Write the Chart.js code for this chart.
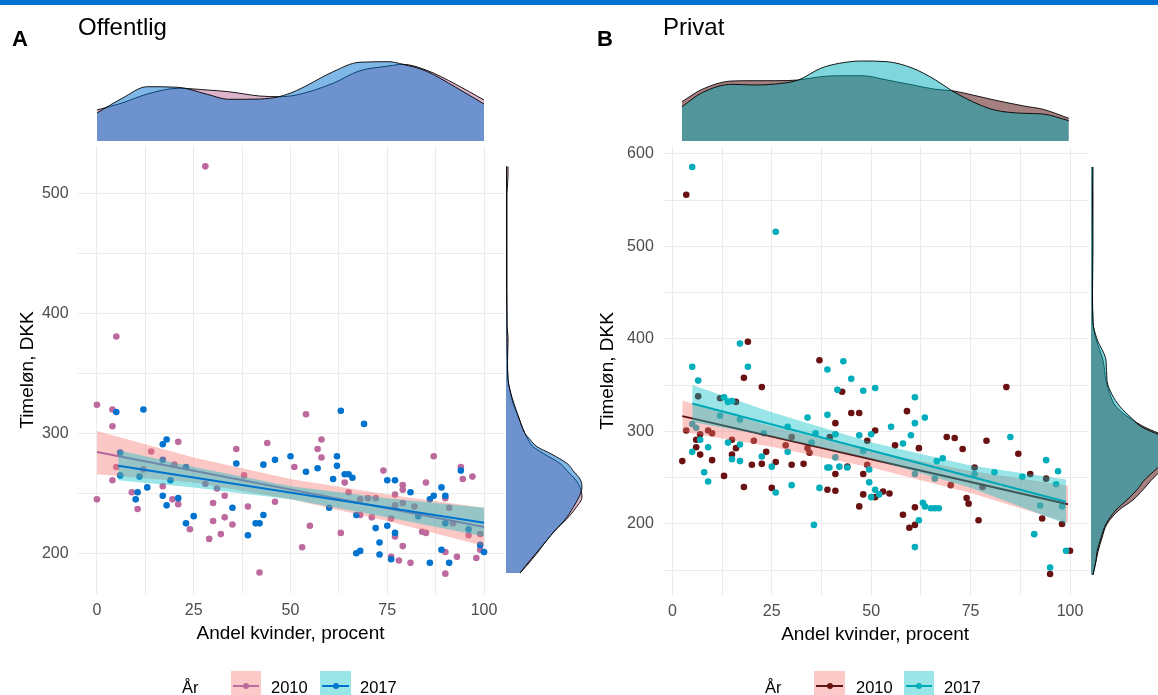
<!DOCTYPE html>
<html>
<head>
<meta charset="utf-8">
<script src="https://cdn.jsdelivr.net/npm/chart.js@4/dist/chart.umd.min.js"></script>
<style>
  html, body { margin: 0; padding: 0; background: #fff; }
  body { width: 1158px; height: 695px; overflow: hidden; position: relative;
         font-family: "Liberation Sans", Arial, Helvetica, sans-serif; color: #000; }
  canvas.layer { position: absolute; left: 0; top: 0; }
  .topbar { position: absolute; left: 0; top: 0; width: 1158px; height: 5px; background: #0071CE; }
  .tag { position: absolute; font-weight: bold; font-size: 22px; line-height: 22px; }
  .ttl { position: absolute; font-size: 24px; line-height: 24px; }
  .lg { position: absolute; font-size: 16.5px; line-height: 16px; white-space: nowrap; }
  .key { position: absolute; top: 671px; height: 28px; }
  .key .ln { position: absolute; left: 2px; right: 2px; top: 14px; height: 2px; }
  .key .dt { position: absolute; width: 6px; height: 6px; border-radius: 50%; top: 12px; left: 50%; margin-left: -3px; }
</style>
</head>
<body>
<div class="topbar"></div>

<canvas id="topA" class="layer" width="1158" height="695"></canvas>
<canvas id="rightA" class="layer" width="1158" height="695"></canvas>
<canvas id="scatA" class="layer" width="1158" height="695"></canvas>
<canvas id="topB" class="layer" width="1158" height="695"></canvas>
<canvas id="rightB" class="layer" width="1158" height="695"></canvas>
<canvas id="scatB" class="layer" width="1158" height="695"></canvas>

<div class="tag" style="left:12px;top:28px;">A</div>
<div class="ttl" style="left:78px;top:15px;">Offentlig</div>
<div class="tag" style="left:597px;top:28px;">B</div>
<div class="ttl" style="left:663px;top:15px;">Privat</div>

<!-- legend, panel A -->
<div class="lg" style="left:182px;top:679px;">År</div>
<div class="key" style="left:231px;width:30px;background:#FBC9C7;"><div class="ln" style="background:#BD6A9E"></div><div class="dt" style="background:#BD6A9E"></div></div>
<div class="lg" style="left:271px;top:679px;">2010</div>
<div class="key" style="left:320px;width:31px;background:#99E5E7;"><div class="ln" style="background:#0073CF"></div><div class="dt" style="background:#0073CF"></div></div>
<div class="lg" style="left:360px;top:679px;">2017</div>

<!-- legend, panel B -->
<div class="lg" style="left:765px;top:679px;">År</div>
<div class="key" style="left:814px;width:31px;background:#FBC9C7;"><div class="ln" style="background:#5E1414"></div><div class="dt" style="background:#6A1212"></div></div>
<div class="lg" style="left:856px;top:679px;">2010</div>
<div class="key" style="left:904px;width:30px;background:#99E5E7;"><div class="ln" style="background:#00A9B7"></div><div class="dt" style="background:#00ADBB"></div></div>
<div class="lg" style="left:944px;top:679px;">2017</div>

<script>
// ---------- axis ticks ----------
const xGridVals = [0, 12.5, 25, 37.5, 50, 62.5, 75, 87.5, 100];
const xLabelVals = [0, 25, 50, 75, 100];
const yGridA = [200, 250, 300, 350, 400, 450, 500];
const yLabelA = [200, 300, 400, 500];
const yGridB = [150, 200, 250, 300, 350, 400, 450, 500, 550, 600];
const yLabelB = [200, 300, 400, 500, 600];

// ---------- Offentlig (A): hourly wage vs share of women ----------
const a2010X = [28, 5, 0, 4, 4, 0, 4, 5, 9, 10.5, 12, 14, 17, 21, 20, 19.5, 21, 24, 29, 28, 30, 30, 31, 32, 33, 33, 35, 36, 38, 39,
                42, 44, 46, 51, 53, 54, 58, 57, 58, 64, 65, 55, 63, 68, 68, 70, 72, 71, 74, 76, 76, 77, 77, 77, 78, 79, 79, 79, 79, 81,
                82, 85, 84, 85, 87, 90, 90, 90, 91, 92, 93, 94, 94.5, 97, 96, 99, 99, 98];
const a2010Y = [523, 381, 324, 320, 306, 245, 261, 272, 251, 237, 270, 285, 256, 293, 274, 245, 241, 220, 212, 258, 242, 227, 254, 216, 248, 230, 224, 287, 265, 239,
                184, 292, 243, 272, 205, 316, 295, 287, 280, 259, 251, 223, 217, 232, 245, 246, 246, 230, 269, 229, 197, 249, 240, 214, 194, 257, 253, 242, 206, 192,
                239, 259, 218, 217, 281, 246, 201, 183, 238, 225, 197, 272, 262, 264, 215, 216, 203, 196];
const a2017X = [5, 12, 6, 6, 10.5, 10, 11, 13, 17, 17, 18, 17, 18, 21, 19, 23, 23, 25, 35, 36, 39, 41, 42, 43, 43, 46, 50, 63, 69, 62,
                62, 57, 54, 61, 64, 65, 66, 60, 67, 67, 68, 72, 73, 73, 75, 75, 76, 77, 77, 81, 83, 86, 86, 87, 89, 90, 89, 90, 91, 94,
                96, 99, 100];
const a2017Y = [318, 320, 284, 265, 251, 245, 264, 255, 248, 291, 295, 278, 240, 246, 261, 272, 225, 231, 238, 275, 215, 225, 225, 274, 232, 278, 281, 319, 308, 281,
                273, 271, 268, 262, 266, 266, 263, 238, 232, 200, 202, 221, 209, 199, 261, 223, 195, 261, 217, 251, 231, 245, 192, 248, 255, 248, 203, 225, 192, 269,
                220, 207, 201];
// linear fits and their confidence bands
const aFit2010X = [0, 100],   aFit2010Y = [284.6, 222];
const aFit2017X = [5.5, 100], aFit2017Y = [273, 225.5];
const aBand2010X = [0, 25, 50, 75, 100];
const aBand2010Lo = [266, 259, 245, 227, 206];
const aBand2010Hi = [302, 280, 262, 249, 238];
const aBand2017X = [5.5, 25, 50, 75, 100];
const aBand2017Lo = [261, 255, 245, 230, 214];
const aBand2017Hi = [286, 272, 256, 246, 238];

// marginal densities, A (relative heights)
const aTopX = [0, 6.5, 13, 21, 28.5, 34, 42, 47, 51.5, 61, 67.7, 75.4, 79, 85, 92.7, 100];
const aTop2010 = [31, 38, 47, 52.7, 51, 49.3, 45, 44.3, 46, 57.7, 70, 75, 76.7, 71, 56.7, 41];
const aTop2017 = [28, 42.7, 54.3, 53.7, 46.7, 41.7, 42, 44.3, 50.3, 69.3, 78.7, 79.3, 76.7, 70, 53.7, 37];
const aSideY = [183.5, 190, 200, 210, 220, 228, 238, 247, 255, 262, 268, 275, 283, 289, 295, 300, 308, 315, 325, 336, 345, 360, 375, 381, 390, 420, 460, 500, 515, 523];
const aSide2010 = [14, 21, 31, 40, 50, 60, 70, 76, 74, 69, 62, 54, 38, 27, 22, 19, 15, 12, 7, 4, 2, 1.5, 2, 2, 1, 1, 1, 1, 2, 2];
const aSide2017 = [14, 20, 30, 40, 50, 59, 67, 73, 76, 74, 68, 61, 45, 31, 24, 19, 15, 12, 8, 4, 2, 1.5, 1, 1, 1, 0.5, 0.5, 0.5, 0.5, 0.5];

// ---------- Privat (B) ----------
const b2010X = [3.5, 19, 18, 22.5, 6.5, 12, 16, 3.5, 37, 42.7, 45, 47, 41, 39.6, 51, 2.5, 6, 6, 7, 7, 9, 10, 10, 13, 15, 15, 16, 18, 20, 20.5,
                22.5, 23.6, 25, 26, 28.5, 30, 33, 30, 34, 34.5, 39, 41, 41, 44, 47, 48, 48, 51, 49, 49, 84, 59, 69, 71, 79, 62, 73, 56, 87, 90,
                94, 76, 78, 70, 53, 54.6, 58, 59.6, 61, 61, 74, 74.5, 77, 93, 98, 100, 95];
const b2010Y = [556, 397, 358, 348, 338, 336, 332, 301, 377, 343, 320, 320, 309, 294, 301, 268, 291, 283, 275, 297, 301, 298, 269, 252, 275, 291, 282, 240, 264, 290,
                265, 278, 239, 267, 285, 264, 265, 294, 282, 277, 237, 254, 236, 262, 219, 232, 254, 229, 264, 290, 348, 322, 294, 293, 290, 282, 281, 285, 276, 254,
                249, 261, 240, 242, 235, 233, 210, 196, 199, 218, 228, 222, 204, 206, 200, 171, 146];
const b2017X = [5, 26, 17, 5, 6.5, 19, 13, 14, 15, 12, 17, 5, 6, 39, 43, 45, 48, 51, 41.5, 39, 34, 36, 29, 41, 47, 50, 5, 7, 9, 8,
                9, 14, 17, 15, 17, 22.5, 23, 25, 26, 30, 29, 35, 35.6, 37, 39, 39.5, 42, 41, 44, 49.5, 50, 51, 48, 49.5, 61, 63.5, 61, 55, 60, 58,
                85, 94, 97, 88, 96.5, 81, 76, 66.5, 68, 61, 66, 52, 62, 61, 63, 63.5, 65, 66, 67, 91, 92.5, 99, 95, 98];
const b2017Y = [586, 516, 395, 370, 355, 370, 337, 332, 333, 317, 313, 308, 304, 367, 376, 357, 344, 347, 345, 318, 315, 298, 305, 297, 296, 297, 278, 291, 283, 256,
                246, 288, 286, 270, 268, 273, 298, 262, 234, 242, 278, 288, 199, 239, 261, 261, 262, 272, 261, 245, 229, 237, 279, 259, 337, 315, 309, 305, 296, 287,
                294, 269, 257, 251, 243, 256, 254, 268, 271, 254, 249, 232, 204, 175, 223, 219, 217, 217, 217, 189, 220, 171, 153, 219];
const bFit2010X = [2.5, 99.5], bFit2010Y = [316.6, 221.3];
const bFit2017X = [5, 99],     bFit2017Y = [330.3, 224];
const bBand2010X = [2.5, 25, 50, 75, 99.5];
const bBand2010Lo = [299.6, 283.5, 261, 233.4, 201.3];
const bBand2010Hi = [333.6, 305.5, 279, 257.4, 241.3];
const bBand2017X = [5, 25, 50, 75, 99];
const bBand2017Lo = [310.3, 294.7, 270.4, 239.1, 200];
const bBand2017Hi = [350.3, 320.7, 288.4, 263.1, 248];

const bTopX = [2.4, 7.5, 15, 20.5, 26, 31.7, 37.3, 42, 47.6, 54, 60.5, 66.2, 70.3, 75.5, 81, 88.4, 93.2, 99.7];
const bTop2010 = [39.3, 51.7, 60, 60.3, 60.3, 61, 64.3, 65.3, 65.3, 61, 56, 51.7, 50.3, 46, 41, 35, 31.7, 22.7];
const bTop2017 = [34.3, 48.3, 56.7, 56, 57, 61, 72.7, 77.7, 80, 79.3, 72.7, 61, 50.3, 39.3, 31, 27.7, 27, 20.3];
const bSideY = [145, 150, 160, 170, 185, 200, 215, 226, 237, 247, 260, 270, 280, 290, 296, 304, 315, 327, 340, 355, 377, 400, 418, 450, 500, 550, 586];
const bSide2010 = [2, 3, 5, 7, 11, 16, 28, 42, 52, 60, 72, 80, 82, 80, 72, 55, 38, 25, 19, 15, 12, 5, 2, 1.5, 1.5, 2, 1.5];
const bSide2017 = [2, 3, 5, 6, 10, 15, 25, 36, 46, 53, 66, 76, 80, 79, 69, 52, 40, 29, 21, 16, 15, 6, 2, 1.5, 2, 1.5, 2];

// ---------- helpers ----------
Chart.defaults.font.family = "'Liberation Sans', Arial, Helvetica, sans-serif";
const PAGE_W = 1158, PAGE_H = 695;
const pts = (xs, ys) => xs.map((x, i) => ({ x, y: ys[i] }));
const RIB2010 = 'rgba(248,118,109,0.4)';
const RIB2017 = 'rgba(0,191,196,0.4)';

function baseOptions(padding, scales) {
  return {
    responsive: false, maintainAspectRatio: false, animation: false, devicePixelRatio: 1,
    layout: { padding },
    plugins: { legend: { display: false }, tooltip: { enabled: false } },
    events: [],
    scales
  };
}

function scatterPanel(id, p) {
  const yAxisW = p.left - p.padLeft;
  const xAxisH = 52;
  const datasets = [
    { type: 'scatter', data: pts(p.x10, p.y10), backgroundColor: p.c10, borderWidth: 0, pointRadius: 3.3, order: 30 },
    { type: 'scatter', data: pts(p.x17, p.y17), backgroundColor: p.c17, borderWidth: 0, pointRadius: 3.3, order: 29 },
    { type: 'line', data: pts(p.b10x, p.b10hi), borderWidth: 0, borderColor: 'transparent', pointRadius: 0, fill: 3, backgroundColor: RIB2010, order: 20 },
    { type: 'line', data: pts(p.b10x, p.b10lo), borderWidth: 0, borderColor: 'transparent', pointRadius: 0, fill: false, order: 21 },
    { type: 'line', data: pts(p.f10x, p.f10y), borderWidth: 2, borderColor: p.l10, pointRadius: 0, fill: false, order: 19 },
    { type: 'line', data: pts(p.b17x, p.b17hi), borderWidth: 0, borderColor: 'transparent', pointRadius: 0, fill: 6, backgroundColor: RIB2017, order: 15 },
    { type: 'line', data: pts(p.b17x, p.b17lo), borderWidth: 0, borderColor: 'transparent', pointRadius: 0, fill: false, order: 16 },
    { type: 'line', data: pts(p.f17x, p.f17y), borderWidth: 2, borderColor: p.l17, pointRadius: 0, fill: false, order: 14 }
  ];
  const grid = { color: '#EBEBEB', lineWidth: 1, drawTicks: false };
  const tickFont = { size: 16 };
  const scales = {
    x: {
      type: 'linear', min: p.xMin, max: p.xMax,
      afterBuildTicks: s => { s.ticks = xGridVals.map(v => ({ value: v })); },
      afterFit: s => { s.height = xAxisH; },
      grid, border: { display: false },
      ticks: { padding: 6.5, color: '#4D4D4D', font: tickFont, autoSkip: false, maxRotation: 0,
               callback: v => xLabelVals.includes(v) ? String(v) : '' },
      title: { display: true, text: 'Andel kvinder, procent', color: '#000', font: { size: 19 }, padding: { top: 0, bottom: 1 } }
    },
    y: {
      type: 'linear', min: p.yMin, max: p.yMax,
      afterBuildTicks: s => { s.ticks = p.yGrid.map(v => ({ value: v })); },
      afterFit: s => { s.width = yAxisW; },
      grid, border: { display: false },
      ticks: { padding: 9, color: '#4D4D4D', font: tickFont, autoSkip: false,
               callback: v => p.yLabels.includes(v) ? String(v) : '' },
      title: { display: true, text: 'Timeløn, DKK', color: '#000', font: { size: 19 }, padding: { top: 16.6, bottom: 0 } }
    }
  };
  const padding = { left: p.padLeft, top: p.top, right: PAGE_W - p.right, bottom: PAGE_H - p.bottom - xAxisH };
  new Chart(document.getElementById(id), { type: 'scatter', data: { datasets }, options: baseOptions(padding, scales) });
}

function densityTop(id, p) {
  const datasets = [
    { data: pts(p.x, p.d10), fill: 'origin', backgroundColor: p.f10, borderColor: '#000', borderWidth: 0.9, pointRadius: 0, cubicInterpolationMode: 'monotone', order: 2 },
    { data: pts(p.x, p.d17), fill: 'origin', backgroundColor: p.f17, borderColor: '#000', borderWidth: 0.9, pointRadius: 0, cubicInterpolationMode: 'monotone', order: 1 }
  ];
  const scales = {
    x: { type: 'linear', display: false, min: p.xMin, max: p.xMax },
    y: { type: 'linear', display: false, min: 0, max: 82 }
  };
  const padding = { left: p.left, right: PAGE_W - p.right, top: 141 - 82, bottom: PAGE_H - 141 };
  new Chart(document.getElementById(id), { type: 'line', data: { datasets }, options: baseOptions(padding, scales) });
}

function densitySide(id, p) {
  const datasets = [
    { data: pts(p.d10, p.y), fill: 'origin', backgroundColor: p.f10, borderColor: '#000', borderWidth: 0.9, pointRadius: 0, cubicInterpolationMode: 'monotone', order: 2 },
    { data: pts(p.d17, p.y), fill: 'origin', backgroundColor: p.f17, borderColor: '#000', borderWidth: 0.9, pointRadius: 0, cubicInterpolationMode: 'monotone', order: 1 }
  ];
  const scales = {
    x: { type: 'linear', display: false, min: 0, max: p.span },
    y: { type: 'linear', display: false, min: p.yMin, max: p.yMax }
  };
  const padding = { left: p.left, right: PAGE_W - p.left - p.span, top: p.top, bottom: PAGE_H - p.bottom };
  const opts = baseOptions(padding, scales);
  opts.indexAxis = 'y';
  new Chart(document.getElementById(id), { type: 'line', data: { datasets }, options: opts });
}

// ---------- panel A ----------
densityTop('topA', { x: aTopX, d10: aTop2010, d17: aTop2017, xMin: -5, xMax: 105, left: 77.6, right: 503.4,
  f10: 'rgba(190,105,155,0.5)', f17: 'rgba(0,114,206,0.5)' });
densitySide('rightA', { y: aSideY, d10: aSide2010, d17: aSide2017, yMin: 166, yMax: 540, top: 146, bottom: 594, left: 506, span: 82,
  f10: 'rgba(190,105,155,0.5)', f17: 'rgba(0,114,206,0.5)' });
scatterPanel('scatA', {
  x10: a2010X, y10: a2010Y, x17: a2017X, y17: a2017Y,
  f10x: aFit2010X, f10y: aFit2010Y, f17x: aFit2017X, f17y: aFit2017Y,
  b10x: aBand2010X, b10lo: aBand2010Lo, b10hi: aBand2010Hi,
  b17x: aBand2017X, b17lo: aBand2017Lo, b17hi: aBand2017Hi,
  c10: '#BD6A9E', c17: '#0073CF', l10: '#B5679A', l17: '#0073CF',
  xMin: -5, xMax: 105, yMin: 166, yMax: 540, yGrid: yGridA, yLabels: yLabelA,
  padLeft: 0, left: 77.6, right: 503.4, top: 146, bottom: 594
});

// ---------- panel B ----------
densityTop('topB', { x: bTopX, d10: bTop2010, d17: bTop2017, xMin: -2.4, xMax: 104.4, left: 662.8, right: 1087.5,
  f10: 'rgba(78,0,0,0.5)', f17: 'rgba(0,173,185,0.5)' });
densitySide('rightB', { y: bSideY, d10: bSide2010, d17: bSide2017, yMin: 123, yMax: 608, top: 146.6, bottom: 595.2, left: 1091, span: 67,
  f10: 'rgba(78,0,0,0.5)', f17: 'rgba(0,173,185,0.5)' });
scatterPanel('scatB', {
  x10: b2010X, y10: b2010Y, x17: b2017X, y17: b2017Y,
  f10x: bFit2010X, f10y: bFit2010Y, f17x: bFit2017X, f17y: bFit2017Y,
  b10x: bBand2010X, b10lo: bBand2010Lo, b10hi: bBand2010Hi,
  b17x: bBand2017X, b17lo: bBand2017Lo, b17hi: bBand2017Hi,
  c10: '#6A1212', c17: '#00ADBB', l10: '#5E1414', l17: '#00A9B7',
  xMin: -2.4, xMax: 104.4, yMin: 123, yMax: 608, yGrid: yGridB, yLabels: yLabelB,
  padLeft: 580, left: 662.8, right: 1087.5, top: 146.6, bottom: 595.2
});
</script>
</body>
</html>
